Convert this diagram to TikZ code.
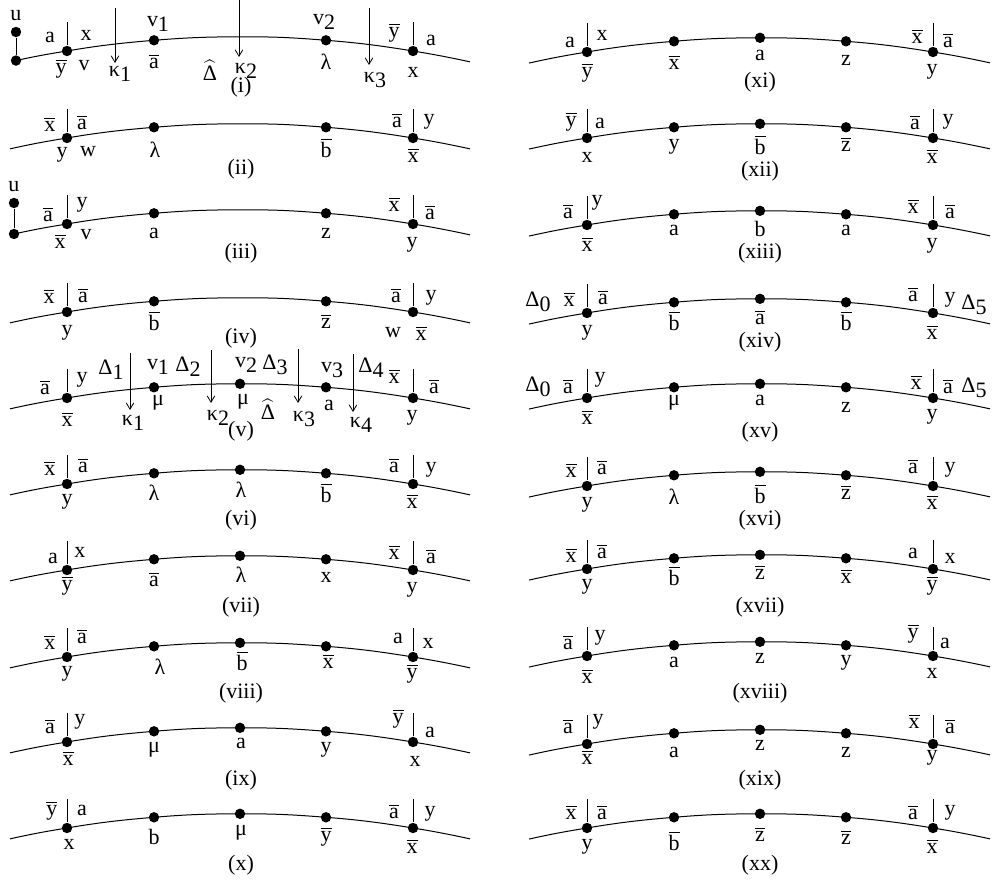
\documentclass[tikz,border=0pt]{standalone}
\usepackage{fontspec}
\setmainfont{Liberation Serif}
\usetikzlibrary{arrows.meta}
\newcommand{\ovl}[1]{$\overline{\mbox{#1}}$}
\newcommand{\subn}[1]{\raisebox{-0.5ex}{#1}}
\newcommand{\hatD}{$\widehat{\mbox{Δ}}$}
\tikzstyle{vert} = [circle, fill=black, inner sep=0pt, minimum size=5.2pt]
\tikzstyle{lbl} = [inner sep=0pt, font=\fontsize{11}{13}\selectfont]
\tikzstyle{curve} = [line width=0.5pt]
\tikzstyle{stub} = [line width=0.5pt]
\tikzstyle{flow} = [line width=0.4pt, -{Straight Barb[length=3.2pt,width=3.8pt]}]
\begin{document}
\begin{tikzpicture}[x=0.5pt, y=-0.5pt]
\useasboundingbox (0,0) rectangle (992,882);

\foreach \n/\cx/\yy/\ms/\lx in {1/240/51/coordinate/224, 2/240/138/coordinate/230, 3/240/224/coordinate/226, 4/240/312/coordinate/230, 5/240/398/vert/230, 6/240/484/vert/230, 7/240/570/vert/230, 8/240/657/vert/230, 9/240/742/vert/230, 10/240/828/vert/230, 11/760/52/vert/231, 12/760/138/vert/231, 13/760/225/vert/231, 14/760/313/vert/231, 15/760/398/vert/231, 16/760/486/vert/231, 17/760/569/vert/231, 18/760/656/vert/231, 19/760/744/vert/231, 20/760/828/vert/231}{
  \coordinate (EL\n) at ({\cx-\lx},{\yy-14.2+(\lx/100)*(\lx/100)*4.735});
  \coordinate (ER\n) at ({\cx+230},{\yy+10.85});
  \node[vert] (P\n-1) at ({\cx-173},\yy) {};
  \node[vert] (P\n-2) at ({\cx-86},{\yy-10.7}) {};
  \node[\ms] (P\n-3) at (\cx,{\yy-14.2}) {};
  \node[vert] (P\n-4) at ({\cx+86},{\yy-10.7}) {};
  \node[vert] (P\n-5) at ({\cx+173},\yy) {};
  \coordinate (S\n-1) at ({\cx-173},{\yy-29});
  \coordinate (S\n-5) at ({\cx+173},{\yy-29});
  \draw[curve] (EL\n) to[bend left=1.5] (P\n-1) to[bend left=2.35] (P\n-2) to[bend left=2.35] (P\n-3) to[bend left=2.35] (P\n-4) to[bend left=2.35] (P\n-5) to[bend left=1.5] (ER\n);
  \draw[stub] (S\n-1) -- (P\n-1);
  \draw[stub] (S\n-5) -- (P\n-5);
}

\node[vert] (U1) at (16,32) {};
\node[vert] (B1) at (EL1) {};
\draw[stub] (U1) -- (B1);
\node[vert] (U3) at (14,203) {};
\node[vert] (B3) at (EL3) {};
\draw[stub] (U3) -- (B3);

\foreach \k/\kx/\ka/\kb in {1/115/8/63, 2/239/0/57, 3/369/8/65, 4/130/353/410, 5/211/350/403, 6/298/349/403, 7/353/354/412}{
  \coordinate (Ka-\k) at (\kx,\ka);
  \coordinate (Kb-\k) at (\kx,\kb);
  \draw[flow] (Ka-\k) -- (Kb-\k);
}

\foreach \px/\py/\t [count=\k] in {16/16/u, 50/37/a, 86/35/x, 61/69/\ovl{y}, 84/66/v, 158/24/v\subn{1}, 154/61/\ovl{a}, 324/22/v\subn{2}, 326/62/λ, 394/33/\ovl{y}, 431/40/a, 413/72/x, 210/70/\hatD, 241/87/(i), 120/74/κ\subn{1}, 246/71/κ\subn{2}, 375/80/κ\subn{3}}
  \node[lbl] (L1-\k) at (\px,\py) {\t};

\foreach \px/\py/\t [count=\k] in {50/124/\ovl{x}, 82/122/\ovl{a}, 62/155/y, 88/152/w, 155/150/λ, 326/148/\ovl{b}, 397/120/\ovl{a}, 429/122/y, 413/155/\ovl{x}, 241/169/(ii)}
  \node[lbl] (L2-\k) at (\px,\py) {\t};

\foreach \px/\py/\t [count=\k] in {14/187/u, 48/214/\ovl{a}, 82/205/y, 60/241/\ovl{x}, 86/235/v, 154/233/a, 326/233/z, 394/204/\ovl{x}, 430/212/\ovl{a}, 412/245/y, 241/253/(iii)}
  \node[lbl] (L3-\k) at (\px,\py) {\t};

\foreach \px/\py/\t [count=\k] in {49/296/\ovl{x}, 83/295/\ovl{a}, 67/333/y, 154/321/\ovl{b}, 326/321/\ovl{z}, 396/295/\ovl{a}, 431/298/y, 393/333/w, 421/333/\ovl{x}, 241/338/(iv)}
  \node[lbl] (L4-\k) at (\px,\py) {\t};

\foreach \px/\py/\t [count=\k] in {45/387/\ovl{a}, 82/380/y, 67/419/\ovl{x}, 111/370/Δ\subn{1}, 158/367/v\subn{1}, 158/403/μ, 188/367/Δ\subn{2}, 246/365/v\subn{2}, 243/402/μ, 275/365/Δ\subn{3}, 332/370/v\subn{3}, 329/405/a, 371/368/Δ\subn{4}, 394/376/\ovl{x}, 434/386/\ovl{a}, 412/418/y, 268/409/\hatD, 241/431/(v), 133/423/κ\subn{1}, 218/418/κ\subn{2}, 304/419/κ\subn{3}, 361/425/κ\subn{4}}
  \node[lbl] (L5-\k) at (\px,\py) {\t};

\foreach \px/\py/\t [count=\k] in {50/468/\ovl{x}, 83/465/\ovl{a}, 67/502/y, 154/493/λ, 241/490/λ, 326/493/\ovl{b}, 394/465/\ovl{a}, 431/470/y, 412/501/\ovl{x}, 241/520/(vi)}
  \node[lbl] (L6-\k) at (\px,\py) {\t};

\foreach \px/\py/\t [count=\k] in {53/558/a, 80/552/x, 67/586/\ovl{y}, 154/579/\ovl{a}, 241/575/λ, 326/577/x, 394/552/\ovl{x}, 431/556/\ovl{a}, 412/590/y, 241/607/(vii)}
  \node[lbl] (L7-\k) at (\px,\py) {\t};

\foreach \px/\py/\t [count=\k] in {50/642/\ovl{x}, 82/636/\ovl{a}, 67/674/y, 160/667/λ, 242/661/\ovl{b}, 328/661/\ovl{x}, 398/638/a, 428/643/x, 412/674/\ovl{y}, 241/693/(viii)}
  \node[lbl] (L8-\k) at (\px,\py) {\t};

\foreach \px/\py/\t [count=\k] in {50/726/\ovl{a}, 80/722/y, 68/758/\ovl{x}, 154/750/μ, 241/743/a, 326/750/y, 415/761/x, 398/719/\ovl{y}, 430/732/a, 241/780/(ix)}
  \node[lbl] (L9-\k) at (\px,\py) {\t};

\foreach \px/\py/\t [count=\k] in {52/811/\ovl{y}, 82/810/a, 69/844/x, 154/837/b, 241/833/μ, 326/837/\ovl{y}, 394/811/\ovl{a}, 430/814/y, 412/846/\ovl{x}, 241/865/(x)}
  \node[lbl] (L10-\k) at (\px,\py) {\t};

\foreach \px/\py/\t [count=\k] in {570/42/a, 602/35/x, 587/73/\ovl{y}, 674/62/\ovl{x}, 760/55/a, 846/60/z, 917/36/\ovl{x}, 948/40/\ovl{a}, 932/72/y, 760/82/(xi)}
  \node[lbl] (L11-\k) at (\px,\py) {\t};

\foreach \px/\py/\t [count=\k] in {571/122/\ovl{y}, 600/123/a, 587/157/x, 674/147/y, 760/145/\ovl{b}, 846/144/\ovl{z}, 915/122/\ovl{a}, 948/122/y, 932/156/\ovl{x}, 760/171/(xii)}
  \node[lbl] (L12-\k) at (\px,\py) {\t};

\foreach \px/\py/\t [count=\k] in {568/211/\ovl{a}, 597/203/y, 587/244/\ovl{x}, 674/230/a, 760/229/b, 846/230/a, 913/206/\ovl{x}, 950/211/\ovl{a}, 932/246/y, 760/253/(xiii)}
  \node[lbl] (L13-\k) at (\px,\py) {\t};

\foreach \px/\py/\t [count=\k] in {538/302/Δ\subn{0}, 569/299/\ovl{x}, 603/297/\ovl{a}, 587/333/y, 674/321/\ovl{b}, 760/317/\ovl{a}, 846/321/\ovl{b}, 913/294/\ovl{a}, 950/300/y, 974/305/Δ\subn{5}, 932/332/\ovl{x}, 760/342/(xiv)}
  \node[lbl] (L14-\k) at (\px,\py) {\t};

\foreach \px/\py/\t [count=\k] in {538/387/Δ\subn{0}, 568/386/\ovl{a}, 600/380/y, 587/417/\ovl{x}, 674/403/μ, 760/400/a, 846/407/z, 916/382/\ovl{x}, 948/386/\ovl{a}, 974/388/Δ\subn{5}, 932/417/y, 760/432/(xv)}
  \node[lbl] (L15-\k) at (\px,\py) {\t};

\foreach \px/\py/\t [count=\k] in {571/470/\ovl{x}, 602/467/\ovl{a}, 587/505/y, 674/497/λ, 760/494/\ovl{b}, 846/492/\ovl{z}, 913/466/\ovl{a}, 950/470/y, 932/502/\ovl{x}, 760/520/(xvi)}
  \node[lbl] (L16-\k) at (\px,\py) {\t};

\foreach \px/\py/\t [count=\k] in {571/555/\ovl{x}, 602/551/\ovl{a}, 587/587/y, 674/576/\ovl{b}, 760/572/\ovl{z}, 846/576/\ovl{x}, 913/553/a, 950/558/x, 932/586/\ovl{y}, 760/607/(xvii)}
  \node[lbl] (L17-\k) at (\px,\py) {\t};

\foreach \px/\py/\t [count=\k] in {568/642/\ovl{a}, 600/638/y, 587/676/\ovl{x}, 674/662/a, 760/658/z, 846/663/y, 913/634/\ovl{y}, 945/643/a, 932/673/x, 760/693/(xviii)}
  \node[lbl] (L18-\k) at (\px,\py) {\t};

\foreach \px/\py/\t [count=\k] in {568/726/\ovl{a}, 598/722/y, 587/757/\ovl{x}, 674/752/a, 760/745/z, 846/752/z, 914/721/\ovl{x}, 950/726/\ovl{a}, 932/758/y, 760/780/(xix)}
  \node[lbl] (L19-\k) at (\px,\py) {\t};

\foreach \px/\py/\t [count=\k] in {571/812/\ovl{x}, 602/812/\ovl{a}, 587/847/y, 674/841/\ovl{b}, 760/834/\ovl{z}, 846/837/\ovl{z}, 913/812/\ovl{a}, 950/813/y, 932/846/\ovl{x}, 760/865/(xx)}
  \node[lbl] (L20-\k) at (\px,\py) {\t};

\end{tikzpicture}
\end{document}
